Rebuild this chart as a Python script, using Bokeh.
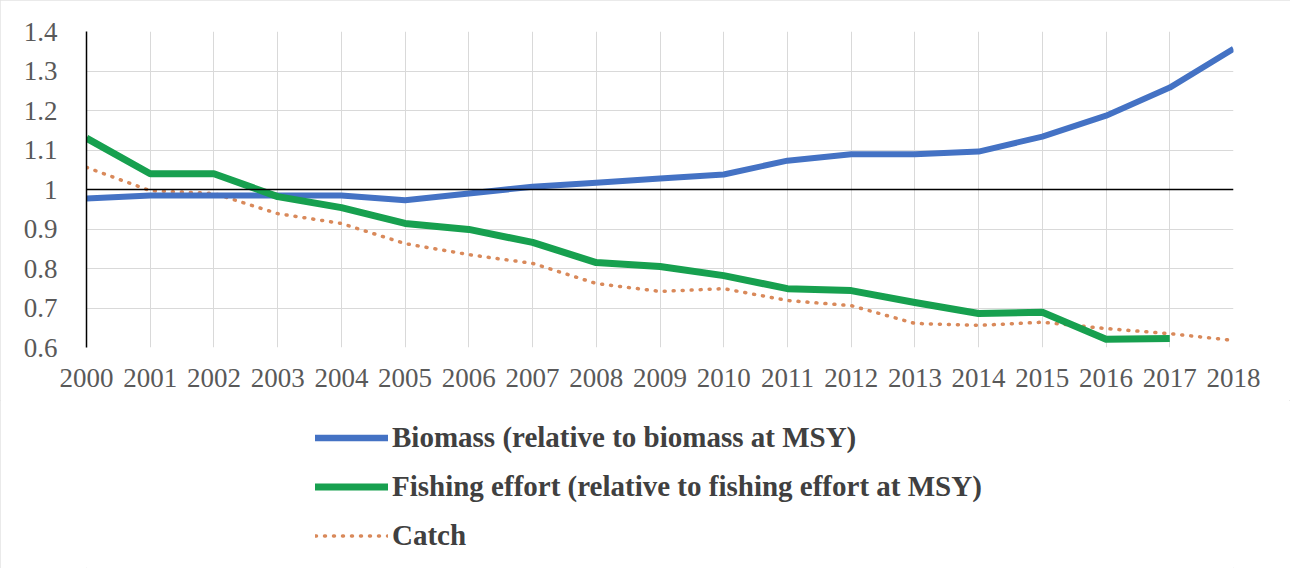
from bokeh.plotting import figure
from bokeh.layouts import column
from bokeh.models import Range1d, FixedTicker, Span, Legend, LegendItem
from bokeh.embed import file_html
from bokeh.resources import INLINE

years = list(range(2000, 2019))
biomass = [0.977, 0.985, 0.985, 0.985, 0.985, 0.973, 0.99, 1.007, 1.017, 1.028,
           1.038, 1.073, 1.089, 1.089, 1.096, 1.134, 1.187, 1.258, 1.356]
effort_years = list(range(2000, 2018))
effort = [1.13, 1.04, 1.04, 0.982, 0.954, 0.914, 0.899, 0.866, 0.815, 0.805,
          0.782, 0.749, 0.744, 0.714, 0.686, 0.689, 0.621, 0.623]
catch = [1.056, 0.997, 0.99, 0.939, 0.914, 0.863, 0.835, 0.813, 0.762, 0.742,
         0.749, 0.719, 0.706, 0.661, 0.656, 0.664, 0.648, 0.635, 0.618]
y_ticks = [0.6, 0.7, 0.8, 0.9, 1.0, 1.1, 1.2, 1.3, 1.4]
legend_labels = ["Biomass (relative to biomass at MSY)",
                 "Fishing effort (relative to fishing effort at MSY)",
                 "Catch"]

SERIF = "Liberation Serif"
BLUE, GREEN, ORANGE = "#4472C4", "#17A04F", "#D9895A"

# ---- main chart ----
p = figure(width=1290, height=400, output_backend="svg", toolbar_location=None,
           x_range=Range1d(2000, 2018), y_range=Range1d(0.6, 1.4),
           min_border_left=86, min_border_top=31, min_border_right=57, min_border_bottom=53)
p.outline_line_color = None
p.background_fill_color = "white"
p.border_fill_color = "white"

p.xaxis.ticker = FixedTicker(ticks=years)
p.yaxis.ticker = FixedTicker(ticks=y_ticks)
p.yaxis.major_label_overrides = {1: "1"}
for ax in (p.xaxis, p.yaxis):
    ax.major_tick_line_color = None
    ax.minor_tick_line_color = None
    ax.major_label_text_font = SERIF
    ax.major_label_text_font_size = "27px"
    ax.major_label_text_color = "#595959"
p.xaxis.axis_line_color = None
p.yaxis.axis_line_color = "black"
p.yaxis.axis_line_width = 1.5
p.yaxis.major_label_standoff = 23
p.xaxis.major_label_standoff = 15

p.xgrid.ticker = FixedTicker(ticks=years)
p.ygrid.ticker = FixedTicker(ticks=y_ticks)
p.grid.grid_line_color = "#d9d9d9"
p.grid.grid_line_width = 1

p.add_layout(Span(location=1.0, dimension="width", line_color="black", line_width=1.5))

p.line(years, catch, line_color=ORANGE, line_width=3.5, line_dash="1 8", line_cap="round")
p.line(years, biomass, line_color=BLUE, line_width=6, line_join="round")
p.line(effort_years, effort, line_color=GREEN, line_width=7, line_join="round")

# ---- legend strip (same series, drawn out of view; only their legend keys show) ----
lg = figure(width=1290, height=168, output_backend="svg", toolbar_location=None,
            x_range=Range1d(0, 1), y_range=Range1d(0, 1),
            x_axis_type=None, y_axis_type=None, min_border=0)
lg.grid.visible = False
lg.outline_line_color = None
lg.background_fill_color = "white"
lg.border_fill_color = "white"
k_bio = lg.line(years, biomass, line_color=BLUE, line_width=6.5, line_cap="round")
k_eff = lg.line(effort_years, effort, line_color=GREEN, line_width=7, line_cap="round")
k_cat = lg.line(years, catch, line_color=ORANGE, line_width=3.5, line_dash="1 8", line_cap="round")

legend = Legend(items=[LegendItem(label=legend_labels[0], renderers=[k_bio]),
                       LegendItem(label=legend_labels[1], renderers=[k_eff]),
                       LegendItem(label=legend_labels[2], renderers=[k_cat])],
                location=(229, 16), orientation="vertical")
legend.label_text_font = SERIF
legend.label_text_font_style = "bold"
legend.label_text_font_size = "29px"
legend.label_text_color = "#404040"
legend.border_line_color = None
legend.background_fill_alpha = 0
legend.glyph_width = 73
legend.glyph_height = 33
legend.label_height = 33
legend.spacing = 16
legend.padding = 0
legend.margin = 0
legend.label_standoff = 4
lg.add_layout(legend, "center")

layout = column(p, lg, spacing=0)
layout.styles = {"outline": "1px solid #e3e3e3", "outline-offset": "-1px"}

open("out.html", "w").write(file_html(layout, INLINE))
